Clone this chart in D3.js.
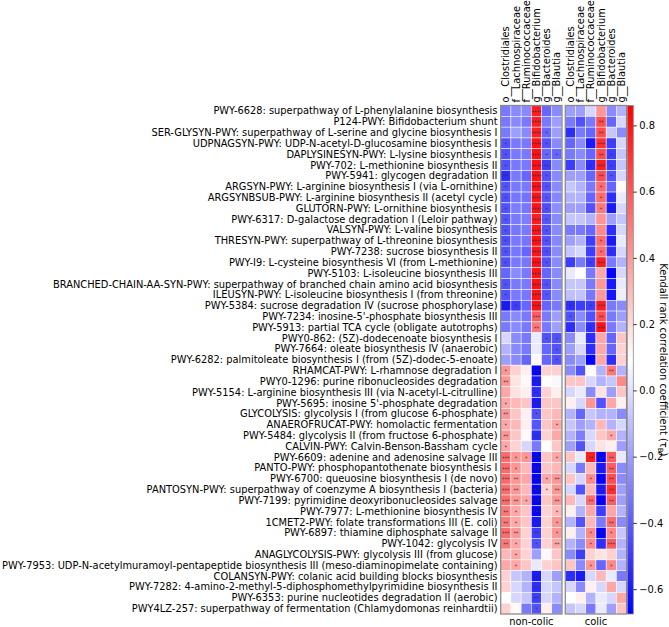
<!DOCTYPE html>
<html>
<head>
<meta charset="utf-8">
<script src="https://cdn.jsdelivr.net/npm/d3@7"></script>
<style>
  body { margin: 0; background: #fff; }
  text { font-family: "DejaVu Sans", sans-serif; }
</style>
</head>
<body>
<div id="chart"></div>
<script>
const pathways = [
  "PWY-6628: superpathway of L-phenylalanine biosynthesis",
  "P124-PWY: Bifidobacterium shunt",
  "SER-GLYSYN-PWY: superpathway of L-serine and glycine biosynthesis I",
  "UDPNAGSYN-PWY: UDP-N-acetyl-D-glucosamine biosynthesis I",
  "DAPLYSINESYN-PWY: L-lysine biosynthesis I",
  "PWY-702: L-methionine biosynthesis II",
  "PWY-5941: glycogen degradation II",
  "ARGSYN-PWY: L-arginine biosynthesis I (via L-ornithine)",
  "ARGSYNBSUB-PWY: L-arginine biosynthesis II (acetyl cycle)",
  "GLUTORN-PWY: L-ornithine biosynthesis I",
  "PWY-6317: D-galactose degradation I (Leloir pathway)",
  "VALSYN-PWY: L-valine biosynthesis",
  "THRESYN-PWY: superpathway of L-threonine biosynthesis",
  "PWY-7238: sucrose biosynthesis II",
  "PWY-I9: L-cysteine biosynthesis VI (from L-methionine)",
  "PWY-5103: L-isoleucine biosynthesis III",
  "BRANCHED-CHAIN-AA-SYN-PWY: superpathway of branched chain amino acid biosynthesis",
  "ILEUSYN-PWY: L-isoleucine biosynthesis I (from threonine)",
  "PWY-5384: sucrose degradation IV (sucrose phosphorylase)",
  "PWY-7234: inosine-5'-phosphate biosynthesis III",
  "PWY-5913: partial TCA cycle (obligate autotrophs)",
  "PWY0-862: (5Z)-dodecenoate biosynthesis I",
  "PWY-7664: oleate biosynthesis IV (anaerobic)",
  "PWY-6282: palmitoleate biosynthesis I (from (5Z)-dodec-5-enoate)",
  "RHAMCAT-PWY: L-rhamnose degradation I",
  "PWY0-1296: purine ribonucleosides degradation",
  "PWY-5154: L-arginine biosynthesis III (via N-acetyl-L-citrulline)",
  "PWY-5695: inosine 5'-phosphate degradation",
  "GLYCOLYSIS: glycolysis I (from glucose 6-phosphate)",
  "ANAEROFRUCAT-PWY: homolactic fermentation",
  "PWY-5484: glycolysis II (from fructose 6-phosphate)",
  "CALVIN-PWY: Calvin-Benson-Bassham cycle",
  "PWY-6609: adenine and adenosine salvage III",
  "PANTO-PWY: phosphopantothenate biosynthesis I",
  "PWY-6700: queuosine biosynthesis I (de novo)",
  "PANTOSYN-PWY: superpathway of coenzyme A biosynthesis I (bacteria)",
  "PWY-7199: pyrimidine deoxyribonucleosides salvage",
  "PWY-7977: L-methionine biosynthesis IV",
  "1CMET2-PWY: folate transformations III (E. coli)",
  "PWY-6897: thiamine diphosphate salvage II",
  "PWY-1042: glycolysis IV",
  "ANAGLYCOLYSIS-PWY: glycolysis III (from glucose)",
  "PWY-7953: UDP-N-acetylmuramoyl-pentapeptide biosynthesis III (meso-diaminopimelate containing)",
  "COLANSYN-PWY: colanic acid building blocks biosynthesis",
  "PWY-7282: 4-amino-2-methyl-5-diphosphomethylpyrimidine biosynthesis II",
  "PWY-6353: purine nucleotides degradation II (aerobic)",
  "PWY4LZ-257: superpathway of fermentation (Chlamydomonas reinhardtii)"
];

const taxa = ["o__Clostridiales", "f__Lachnospiraceae", "f__Ruminococcaceae",
              "g__Bifidobacterium", "g__Bacteroides", "g__Blautia"];

const groups = ["non-colic", "colic"];

// Kendall tau per pathway (rows) x taxon (columns)
const nonColicTau = [
  [-0.31,-0.26,-0.26,0.77,-0.37,-0.26],
  [-0.31,-0.26,-0.31,0.77,-0.31,-0.20],
  [-0.31,-0.20,-0.26,0.77,-0.37,-0.20],
  [-0.43,-0.31,-0.31,0.81,-0.43,-0.26],
  [-0.43,-0.31,-0.31,0.81,-0.37,-0.37],
  [-0.43,-0.31,-0.31,0.81,-0.49,-0.26],
  [-0.54,-0.31,-0.37,0.81,-0.43,-0.26],
  [-0.43,-0.31,-0.31,0.81,-0.43,-0.26],
  [-0.44,-0.32,-0.33,0.80,-0.42,-0.27],
  [-0.43,-0.30,-0.32,0.81,-0.44,-0.25],
  [-0.42,-0.31,-0.30,0.77,-0.42,-0.26],
  [-0.43,-0.32,-0.31,0.80,-0.43,-0.26],
  [-0.44,-0.31,-0.32,0.81,-0.43,-0.27],
  [-0.43,-0.32,-0.37,0.80,-0.44,-0.26],
  [-0.44,-0.31,-0.32,0.81,-0.43,-0.26],
  [-0.37,-0.26,-0.31,0.80,-0.37,-0.26],
  [-0.43,-0.31,-0.31,0.81,-0.43,-0.26],
  [-0.43,-0.31,-0.32,0.80,-0.42,-0.26],
  [-0.60,-0.49,-0.37,0.81,-0.37,-0.31],
  [-0.31,-0.26,-0.31,0.58,-0.31,-0.20],
  [-0.31,-0.26,-0.31,0.50,-0.31,-0.20],
  [-0.03,-0.26,-0.31,0.03,-0.43,-0.43],
  [-0.14,-0.26,-0.31,0.03,-0.37,-0.43],
  [-0.20,-0.26,-0.37,0.11,-0.37,-0.43],
  [0.41,0.23,0.14,-0.66,0.23,0.23],
  [0.41,0.18,0.11,-0.60,0.09,0.07],
  [0.36,0.18,0.14,-0.54,0.23,0.14],
  [0.36,0.31,0.27,-0.60,0.27,0.27],
  [0.41,0.27,0.14,-0.43,0.27,0.31],
  [0.36,0.31,0.14,-0.42,0.27,0.36],
  [0.41,0.27,0.11,-0.54,0.23,0.36],
  [0.36,0.23,-0.03,-0.31,0.09,0.27],
  [0.54,0.41,0.41,-0.67,0.27,0.36],
  [0.54,0.41,0.31,-0.66,0.27,0.31],
  [0.54,0.41,0.36,-0.67,0.36,0.41],
  [0.54,0.41,0.31,-0.66,0.23,0.41],
  [0.54,0.41,0.36,-0.67,0.27,0.41],
  [0.50,0.36,0.27,-0.66,0.23,0.31],
  [0.50,0.36,0.27,-0.60,0.23,0.41],
  [0.54,0.41,0.23,-0.49,0.23,0.41],
  [0.50,0.36,0.23,-0.43,0.23,0.36],
  [0.31,0.36,0.23,-0.20,0.11,0.27],
  [0.36,0.36,0.27,0.03,0.23,0.27],
  [0.23,-0.08,-0.14,-0.60,-0.03,-0.20],
  [0.23,-0.03,-0.14,-0.54,-0.03,-0.08],
  [0.09,-0.03,-0.08,-0.49,-0.03,-0.14],
  [0.23,0.11,-0.31,-0.43,0.14,-0.26]
];

const colicTau = [
  [-0.20,-0.20,-0.03,0.41,-0.26,-0.14],
  [-0.31,-0.43,-0.31,0.63,-0.37,-0.03],
  [-0.54,-0.31,-0.37,0.63,-0.08,-0.26],
  [-0.37,-0.26,-0.60,0.72,-0.49,-0.03],
  [-0.31,-0.26,-0.37,0.63,-0.49,-0.08],
  [-0.49,-0.26,-0.54,0.77,-0.49,-0.08],
  [-0.20,-0.20,-0.37,0.63,-0.43,-0.03],
  [-0.08,-0.14,-0.31,0.54,-0.37,0.11],
  [-0.14,-0.14,-0.37,0.54,-0.54,0.03],
  [-0.20,-0.20,-0.43,0.50,-0.60,-0.03],
  [-0.08,-0.08,-0.14,0.41,-0.20,-0.08],
  [-0.31,-0.31,-0.37,0.45,-0.54,-0.03],
  [-0.20,-0.14,-0.49,0.54,-0.60,0.03],
  [-0.08,-0.03,-0.49,0.54,-0.54,-0.03],
  [-0.49,-0.31,-0.49,0.77,-0.31,-0.14],
  [0.03,0.09,-0.31,0.36,-0.66,-0.03],
  [-0.08,-0.08,-0.31,0.41,-0.60,0.03],
  [-0.10,-0.09,-0.32,0.40,-0.61,0.04],
  [-0.54,-0.49,-0.49,0.77,-0.31,-0.26],
  [-0.43,-0.26,-0.43,0.63,-0.31,-0.20],
  [-0.54,-0.26,-0.54,0.81,-0.31,-0.14],
  [-0.26,0.03,-0.54,0.36,-0.37,0.27],
  [-0.20,-0.03,-0.54,0.36,-0.37,0.23],
  [-0.26,-0.20,-0.66,0.36,-0.54,0.23],
  [-0.26,-0.43,0.11,-0.14,0.50,-0.14],
  [0.27,0.27,-0.03,-0.14,-0.08,0.45],
  [-0.03,0.03,-0.26,0.18,-0.20,0.27],
  [0.14,-0.03,0.41,-0.43,0.36,0.14],
  [-0.14,-0.37,-0.08,-0.14,-0.14,-0.26],
  [-0.08,-0.20,-0.14,0.31,-0.14,-0.03],
  [-0.14,-0.30,-0.03,0.27,0.36,-0.14],
  [-0.20,-0.43,-0.03,0.18,0.14,-0.20],
  [0.27,0.03,0.77,-0.67,0.58,0.03],
  [-0.03,-0.31,0.31,-0.60,0.58,-0.26],
  [0.27,-0.03,0.45,-0.67,0.63,-0.26],
  [-0.03,-0.43,0.31,-0.60,0.72,-0.20],
  [0.31,-0.03,0.54,-0.67,0.58,-0.20],
  [0.14,-0.14,0.36,-0.49,0.36,-0.14],
  [-0.14,-0.43,0.31,-0.31,0.54,-0.26],
  [0.14,-0.14,0.45,-0.67,0.45,-0.08],
  [-0.14,-0.26,0.45,-0.54,0.58,-0.14],
  [-0.26,-0.49,0.23,0.18,0.23,-0.14],
  [0.27,-0.26,0.41,-0.37,0.45,-0.14],
  [-0.54,-0.60,-0.03,0.31,0.03,-0.31],
  [-0.03,-0.26,0.14,-0.03,0.36,-0.03],
  [0.09,0.14,-0.14,0.03,-0.03,0.36],
  [-0.08,-0.03,-0.31,0.03,-0.20,0.27]
];

// number of significance stars per cell
const nonColicStars = [
  [0,0,0,4,0,0],[0,0,0,4,0,0],[0,0,0,4,1,0],[1,0,0,4,1,0],[1,0,0,4,1,1],
  [1,0,0,4,2,0],[2,0,0,4,1,0],[1,0,0,4,1,0],[1,0,0,4,1,0],[1,0,0,4,1,0],
  [1,0,0,4,1,0],[1,0,0,4,1,0],[1,0,0,4,1,0],[1,0,0,4,1,0],[1,0,0,4,1,0],
  [0,0,0,4,0,0],[1,0,0,4,1,0],[1,0,0,4,1,0],[2,1,0,4,0,0],[0,0,0,3,0,0],
  [0,0,0,2,0,0],[0,0,0,0,1,1],[0,0,0,0,0,1],[0,0,0,0,0,1],[1,0,0,3,0,0],
  [2,0,0,3,0,0],[0,0,0,2,0,0],[1,0,0,3,0,0],[2,0,0,1,0,0],[1,0,0,0,0,1],
  [2,0,0,2,0,0],[1,0,0,0,0,0],[3,1,1,4,0,1],[3,1,0,4,0,0],[3,2,0,4,1,2],
  [3,2,0,4,1,2],[3,2,1,4,0,2],[2,1,0,3,0,1],[2,1,0,3,0,1],[3,2,0,2,0,1],
  [2,1,0,1,0,2],[0,1,0,0,0,0],[0,1,0,0,0,0],[0,0,0,2,0,0],[0,0,0,2,0,0],
  [0,0,0,2,0,0],[0,0,0,1,0,0]
];

const colicStars = [
  [0,0,0,0,0,0],[0,0,0,2,0,0],[1,0,0,2,0,0],[0,0,1,3,0,0],[0,0,0,2,1,0],
  [0,0,1,3,1,0],[0,0,0,2,1,0],[0,0,0,1,0,0],[0,0,0,1,1,0],[0,0,0,1,1,0],
  [0,0,0,0,0,0],[0,0,0,0,0,0],[0,0,0,1,1,0],[0,0,0,1,1,0],[0,0,1,3,0,0],
  [0,0,0,0,0,0],[0,0,0,0,0,0],[0,0,0,0,0,0],[1,0,1,3,0,0],[1,0,0,2,0,0],
  [0,0,1,3,0,0],[0,0,0,0,0,0],[0,0,0,0,0,0],[0,0,0,0,0,0],[0,0,0,0,2,0],
  [0,0,0,0,0,0],[0,0,0,0,0,0],[0,0,0,0,0,0],[0,0,0,0,0,0],[0,0,0,0,0,0],
  [0,0,0,0,1,0],[0,0,0,0,0,0],[0,0,2,2,2,0],[0,0,0,1,2,0],[0,0,1,1,2,0],
  [0,0,0,1,2,0],[0,0,2,0,2,0],[0,0,0,0,0,0],[0,0,0,0,2,0],[0,0,1,1,1,0],
  [0,0,1,0,3,0],[0,0,0,0,0,0],[0,0,1,0,1,0],[0,1,0,0,0,0],[0,0,0,0,0,0],
  [0,0,0,0,0,0],[0,0,0,0,0,0]
];

const colorTicks = [-0.6, -0.4, -0.2, 0.0, 0.2, 0.4, 0.6, 0.8];
const vmin = -0.675, vmax = 0.86;

const W = 669, H = 627;
const plotTop = 105.5, plotBottom = 614;
const panelX = [500.7, 565.3];
const panelW = 61.3;
const cbX = 627.3, cbW = 6;
const fs = "9.85px";

const svg = d3.select("#chart").append("svg")
    .attr("width", W)
    .attr("height", H);

// bwr colormap, linear between vmin and vmax
const color = d3.scaleLinear()
    .domain([vmin, (vmin + vmax) / 2, vmax])
    .range(["#0000ff", "#ffffff", "#ff0000"])
    .clamp(true);

const y = d3.scaleBand().domain(pathways).range([plotTop, plotBottom]);

const panels = [
  {name: groups[0], tau: nonColicTau, stars: nonColicStars},
  {name: groups[1], tau: colicTau, stars: colicStars}
];

panels.forEach((p, pi) => {
  const x = d3.scaleBand().domain(taxa).range([panelX[pi], panelX[pi] + panelW]);
  const g = svg.append("g");

  const cells = [];
  pathways.forEach((pw, i) => taxa.forEach((t, j) => {
    cells.push({pw, t, v: p.tau[i][j], s: p.stars[i][j]});
  }));

  g.selectAll("rect.cell")
    .data(cells)
    .enter().append("rect")
      .attr("class", "cell")
      .attr("x", d => x(d.t))
      .attr("y", d => y(d.pw))
      .attr("width", x.bandwidth())
      .attr("height", y.bandwidth())
      .attr("fill", d => color(d.v))
      .attr("stroke", "#fff")
      .attr("stroke-width", 0.5);

  g.selectAll("text.star")
    .data(cells.filter(d => d.s > 0))
    .enter().append("text")
      .attr("class", "star")
      .attr("x", d => x(d.t) + x.bandwidth() / 2)
      .attr("y", d => y(d.pw) + y.bandwidth() / 2 + 2.6)
      .attr("text-anchor", "middle")
      .attr("font-size", "5px")
      .attr("fill", "#333")
      .text(d => "*".repeat(d.s));

  // frame around panel
  g.append("rect")
    .attr("x", panelX[pi])
    .attr("y", plotTop)
    .attr("width", panelW)
    .attr("height", plotBottom - plotTop)
    .attr("fill", "none")
    .attr("stroke", "#8a8a8a")
    .attr("stroke-width", 1.3);

  // taxa labels on top
  g.selectAll("text.taxon")
    .data(taxa)
    .enter().append("text")
      .attr("class", "taxon")
      .attr("transform", d => `translate(${x(d) + x.bandwidth() / 2 + 3.5},${plotTop - 3}) rotate(-90)`)
      .attr("font-size", fs)
      .attr("fill", "#000")
      .text(d => d);

  g.append("text")
    .attr("x", panelX[pi] + panelW / 2)
    .attr("y", 625)
    .attr("text-anchor", "middle")
    .attr("font-size", fs)
    .text(p.name);
});

// row labels
svg.append("g").selectAll("text")
  .data(pathways)
  .enter().append("text")
    .attr("x", 497.5)
    .attr("y", d => y(d) + y.bandwidth() / 2 + 3.5)
    .attr("text-anchor", "end")
    .attr("font-size", fs)
    .text(d => d);

// colorbar
const cbScale = d3.scaleLinear().domain([vmin, vmax]).range([plotBottom, plotTop]);
const defs = svg.append("defs");
const grad = defs.append("linearGradient")
    .attr("id", "cbgrad")
    .attr("x1", 0).attr("y1", 1).attr("x2", 0).attr("y2", 0);
d3.range(0, 1.0001, 0.05).forEach(t => {
  grad.append("stop")
    .attr("offset", t)
    .attr("stop-color", color(vmin + t * (vmax - vmin)));
});
svg.append("rect")
  .attr("x", cbX).attr("y", plotTop)
  .attr("width", cbW).attr("height", plotBottom - plotTop)
  .attr("fill", "url(#cbgrad)")
  .attr("stroke", "#8a8a8a")
  .attr("stroke-width", 0.8);

const cbAxis = svg.append("g")
  .attr("transform", `translate(${cbX + cbW},0)`)
  .call(d3.axisRight(cbScale).tickValues(colorTicks).tickFormat(d3.format(".1f")).tickSize(3.5).tickPadding(2.5));
cbAxis.select(".domain").remove();
cbAxis.selectAll("text").attr("font-size", fs).attr("font-family", "DejaVu Sans, sans-serif").attr("fill", "#000");
cbAxis.selectAll("line").attr("stroke", "#000").attr("stroke-width", 0.8);

const cbLabel = svg.append("text")
  .attr("transform", `translate(660,${(plotTop + plotBottom) / 2}) rotate(90)`)
  .attr("text-anchor", "middle")
  .attr("font-size", fs);
cbLabel.append("tspan").text("Kendall rank correlation coefficient (τ");
cbLabel.append("tspan").attr("font-size", "7px").attr("dy", 2).text("B");
cbLabel.append("tspan").attr("dy", -2).text(")");
</script>
</body>
</html>
